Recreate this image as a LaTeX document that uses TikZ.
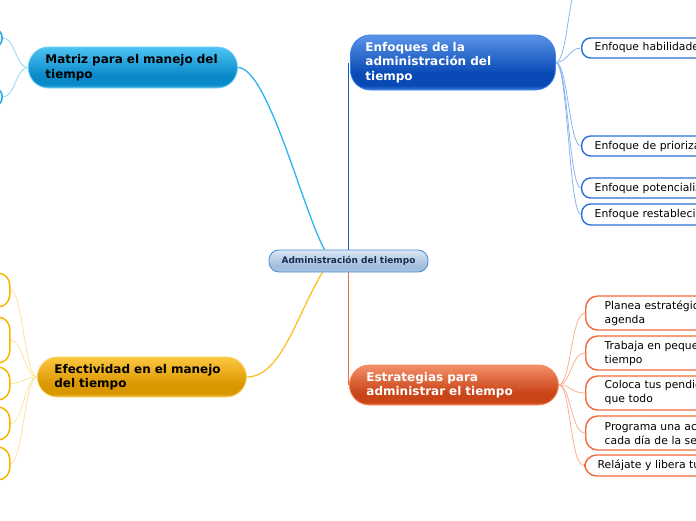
\documentclass[tikz,border=0pt]{standalone}
\usepackage{fontspec}
\setmainfont{DejaVu Sans}
\pgfdeclarelayer{bg}
\pgfsetlayers{bg,main}
% colours
\definecolor{cyT}{HTML}{4DC3F3}\definecolor{cyD}{HTML}{0A8ACA}\definecolor{cyB}{HTML}{4FBCEB}\definecolor{cyBr}{HTML}{6FD0F6}
\definecolor{blT}{HTML}{5A95E8}\definecolor{blD}{HTML}{0849B5}\definecolor{blB}{HTML}{3F7FDB}\definecolor{blBr}{HTML}{3D7FE0}
\definecolor{yeT}{HTML}{FDC740}\definecolor{yeD}{HTML}{D99700}\definecolor{yeB}{HTML}{F5BE40}\definecolor{yeBr}{HTML}{FBD267}
\definecolor{orT}{HTML}{F4906A}\definecolor{orD}{HTML}{C94416}\definecolor{orB}{HTML}{E8704A}\definecolor{orBr}{HTML}{F7855A}
\definecolor{ceT}{HTML}{DCE8F5}\definecolor{ceD}{HTML}{A3BFDE}\definecolor{ceB}{HTML}{B8CFE8}\definecolor{ceBr}{HTML}{4E8ED2}
\definecolor{ceTxt}{HTML}{1A2A50}
\definecolor{lnCy}{HTML}{29B5F0}\definecolor{lnBl}{HTML}{1759D0}\definecolor{lnYe}{HTML}{FBC02D}\definecolor{lnOr}{HTML}{F06A3C}
\definecolor{slCy}{HTML}{8ED8F8}\definecolor{slBl}{HTML}{8AB4F0}\definecolor{slYe}{HTML}{FDE29A}\definecolor{slOr}{HTML}{F9B095}
\definecolor{sbBl}{HTML}{2A70DC}\definecolor{sbOr}{HTML}{F26A3A}\definecolor{sbYe}{HTML}{F7B500}\definecolor{sbCy}{HTML}{1FA8E5}
\newcommand\myglossshade[4]{\pgfdeclareverticalshading{#1}{100bp}{color(0bp)=(#4); color(25bp)=(#4); color(29bp)=(#3); color(40bp)=(#3); color(75bp)=(#2); color(100bp)=(#2)}}
\myglossshade{glcy}{cyT}{cyD}{cyB}
\myglossshade{glbl}{blT}{blD}{blB}
\myglossshade{glye}{yeT}{yeD}{yeB}
\myglossshade{glor}{orT}{orD}{orB}
\myglossshade{glce}{ceT}{ceD}{ceB}
\tikzset{
  mainbox/.style={rounded corners=20pt, line width=0.8pt, align=left, anchor=west,
    text width=175pt, inner xsep=17pt, inner ysep=2pt,
    font=\fontsize{12}{14.5}\selectfont\bfseries},
  centerbox/.style={rounded corners=10pt, line width=0.9pt, shading=glce, draw=ceBr,
    minimum width=159pt, minimum height=22pt, inner sep=0pt, text=ceTxt,
    font=\fontsize{9}{11}\selectfont\bfseries},
  bsub/.style={draw=sbBl, line width=1.4pt, fill=white, rounded corners=9pt, anchor=west,
    minimum height=20pt, inner xsep=13pt, inner ysep=0pt, text width=174pt, align=left,
    font=\fontsize{10.8}{14}\selectfont},
  osub/.style={draw=sbOr, line width=1.4pt, fill=white, rounded corners=12pt, anchor=west,
    minimum height=34pt, inner xsep=19pt, inner ysep=0pt, text width=174pt, align=left,
    font=\fontsize{10.8}{14}\selectfont},
  ybox/.style={draw=sbYe, line width=1.5pt, fill=white, rounded corners=12pt, anchor=east,
    minimum width=80pt},
  cbox/.style={draw=sbCy, line width=1.5pt, fill=white, rounded corners=10pt, anchor=east,
    minimum width=80pt, minimum height=20pt},
  mainline/.style={line width=1.3pt},
  subline/.style={line width=0.8pt},
}
\begin{document}
\begin{tikzpicture}[x=1pt,y=-1pt]
\useasboundingbox (0,0) rectangle (696,520);
\clip (0,0) rectangle (696,520);
% central node
\node[centerbox] (c) at (348.5,261) {Administración del tiempo};
% main nodes
\node[mainbox, shading=glcy, draw=cyBr, minimum height=41pt, text=black] (m) at (28,67.5) {Matriz para el manejo del\\tiempo};
\node[mainbox, shading=glbl, draw=blBr, minimum height=55pt, inner xsep=15pt, text=white] (e) at (350,62.5) {Enfoques de la\\administración del\\tiempo};
\node[mainbox, shading=glye, draw=yeBr, minimum height=40pt, text=black] (f) at (37,377) {Efectividad en el manejo\\del tiempo};
\node[mainbox, shading=glor, draw=orBr, minimum height=40pt, text=white] (s) at (349,385) {Estrategias para\\administrar el tiempo};
% blue sub nodes
\coordinate (b0) at (581,-22);
\node[bsub] (b1) at (581,48) {Enfoque habilidades};
\node[bsub] (b2) at (581,146) {Enfoque de priorización};
\node[bsub] (b3) at (581,188) {Enfoque potencialización};
\node[bsub, minimum height=21pt] (b4) at (581,214.5) {Enfoque restablecimiento};
% orange sub nodes
\node[osub] (o1) at (585,313) {Planea estratégicamente\\agenda};
\node[osub] (o2) at (585,353) {Trabaja en pequeños\\tiempo};
\node[osub] (o3) at (585,393) {Coloca tus pendientes\\que todo};
\node[osub] (o4) at (585,433) {Programa una actividad\\cada día de la semana};
\node[osub, minimum height=21pt, inner xsep=13pt] (o5) at (584,465.5) {Relájate y libera tu};
% yellow sub boxes (mostly outside the picture)
\node[ybox, minimum height=34pt] (y1) at (10.5,290) {};
\node[ybox, minimum height=46pt] (y2) at (10.5,340) {};
\node[ybox, minimum height=33pt] (y3) at (10.5,383.5) {};
\node[ybox, minimum height=33pt] (y4) at (10.5,423.5) {};
\node[ybox, minimum height=33pt] (y5) at (10.5,463.5) {};
% cyan sub boxes (mostly outside the picture)
\node[cbox] (c1) at (3,38) {};
\node[cbox] (c2) at (3,97) {};
\begin{pgfonlayer}{bg}
\clip (0,0) rectangle (696,520);
% main connectors
\draw[mainline, lnCy] (m.east) .. controls +(30,0) and +(-22,-40) .. ([xshift=-24pt]c.north);
\draw[mainline, lnYe] (f.east) .. controls +(35,0) and +(-25,40) .. ([xshift=-26pt]c.south);
\draw[mainline, lnBl, line width=1.7pt] (c.north) -- (c.north |- e.center);
\draw[mainline, lnOr, line width=1.7pt] (c.south) -- (c.south |- s.center);
% blue sub connectors
\foreach \t in {b0,b1,b2,b3,b4}
  \draw[subline, slBl] (e.east) .. controls +(12,0) and +(-12,0) .. (\t.west);
% orange sub connectors
\foreach \t in {o1,o2,o3,o4,o5}
  \draw[subline, slOr] (s.east) .. controls +(12,0) and +(-14,0) .. (\t.west);
% yellow sub connectors
\foreach \t in {y1,y2,y3,y4,y5}
  \draw[subline, slYe] (f.west) .. controls +(-12,0) and +(12,0) .. (\t.east);
% cyan sub connectors
\foreach \t in {c1,c2}
  \draw[subline, slCy] (m.west) .. controls +(-12,0) and +(12,0) .. (\t.east);
\end{pgfonlayer}
\end{tikzpicture}
\end{document}
